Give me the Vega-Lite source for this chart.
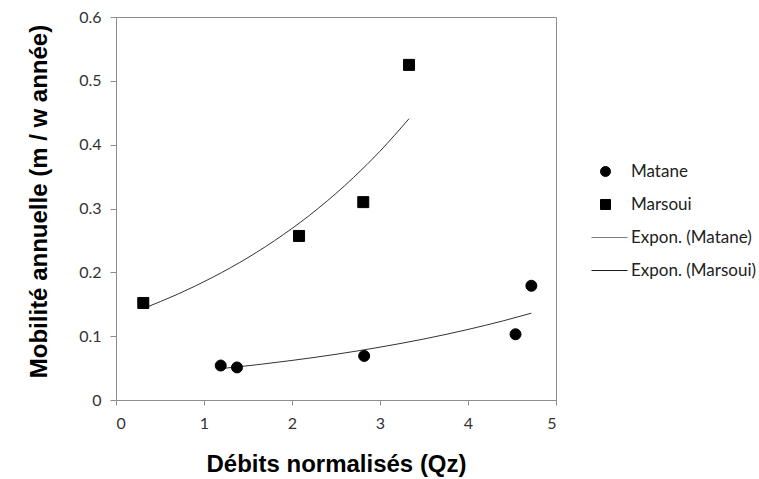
{
  "$schema": "https://vega.github.io/schema/vega-lite/v6.json",
  "width": 440,
  "height": 383,
  "autosize": {"type": "none"},
  "padding": {"left": 116, "top": 17, "right": 203, "bottom": 79},
  "background": "white",
  "config": {
    "font": "Lato",
    "view": {"stroke": "#8c8c8c", "strokeWidth": 1},
    "axis": {
      "grid": false,
      "domainColor": "#8c8c8c",
      "tickColor": "#8c8c8c",
      "tickSize": 5,
      "labelFont": "Lato",
      "labelFontSize": 16,
      "labelColor": "#333333",
      "titleFont": "Liberation Sans",
      "titleFontWeight": "bold",
      "titleColor": "#000000"
    },
    "legend": {
      "orient": "none",
      "legendX": 481,
      "legendY": 146,
      "padding": 0,
      "labelFont": "Lato",
      "labelFontSize": 17,
      "labelColor": "#222222",
      "symbolSize": 100,
      "symbolStrokeWidth": 1,
      "rowPadding": 15,
      "labelOffset": 17
    }
  },
  "datasets": {
    "points": [
      {"series": "Matane", "x": 1.19, "y": 0.054},
      {"series": "Matane", "x": 1.375, "y": 0.051},
      {"series": "Matane", "x": 2.82, "y": 0.069},
      {"series": "Matane", "x": 4.54, "y": 0.103},
      {"series": "Matane", "x": 4.72, "y": 0.179},
      {"series": "Marsoui", "x": 0.31, "y": 0.152},
      {"series": "Marsoui", "x": 2.08, "y": 0.257},
      {"series": "Marsoui", "x": 2.81, "y": 0.310},
      {"series": "Marsoui", "x": 3.33, "y": 0.525}
    ],
    "trend": [
      {"series": "Expon. (Matane)", "x": 1.19, "y": 0.0491},
      {"series": "Expon. (Matane)", "x": 1.6, "y": 0.0552},
      {"series": "Expon. (Matane)", "x": 2.0, "y": 0.0620},
      {"series": "Expon. (Matane)", "x": 2.5, "y": 0.0716},
      {"series": "Expon. (Matane)", "x": 3.0, "y": 0.0828},
      {"series": "Expon. (Matane)", "x": 3.5, "y": 0.0956},
      {"series": "Expon. (Matane)", "x": 4.0, "y": 0.1105},
      {"series": "Expon. (Matane)", "x": 4.4, "y": 0.1240},
      {"series": "Expon. (Matane)", "x": 4.72, "y": 0.1360},
      {"series": "Expon. (Marsoui)", "x": 0.31, "y": 0.1433},
      {"series": "Expon. (Marsoui)", "x": 0.7, "y": 0.1657},
      {"series": "Expon. (Marsoui)", "x": 1.1, "y": 0.1923},
      {"series": "Expon. (Marsoui)", "x": 1.5, "y": 0.2231},
      {"series": "Expon. (Marsoui)", "x": 1.9, "y": 0.2589},
      {"series": "Expon. (Marsoui)", "x": 2.3, "y": 0.3004},
      {"series": "Expon. (Marsoui)", "x": 2.7, "y": 0.3487},
      {"series": "Expon. (Marsoui)", "x": 3.0, "y": 0.3898},
      {"series": "Expon. (Marsoui)", "x": 3.33, "y": 0.4407}
    ]
  },
  "layer": [
    {
      "data": {"name": "trend"},
      "mark": {"type": "line", "color": "#333333", "strokeWidth": 1, "interpolate": "monotone"},
      "encoding": {
        "x": {
          "field": "x", "type": "quantitative",
          "scale": {"domain": [0, 5], "nice": false, "zero": false},
          "axis": {
            "title": "Débits normalisés (Qz)",
            "values": [0, 1, 2, 3, 4, 5],
            "format": "d",
            "labelPadding": 10,
            "titleFontSize": 24,
            "titleBaseline": "alphabetic",
            "titleX": 220,
            "titleY": 71
          }
        },
        "y": {
          "field": "y", "type": "quantitative",
          "scale": {"domain": [0, 0.6], "nice": false},
          "axis": {
            "title": "Mobilité annuelle  (m / w année)",
            "values": [0, 0.1, 0.2, 0.3, 0.4, 0.5, 0.6],
            "format": ".1~f",
            "tickSize": 6,
            "labelPadding": 9,
            "titleFontSize": 24,
            "titleBaseline": "alphabetic",
            "titleAngle": -90,
            "titleX": -70,
            "titleY": 184
          }
        },
        "detail": {"field": "series", "type": "nominal"}
      }
    },
    {
      "data": {"name": "points"},
      "mark": {"type": "point", "size": 121, "strokeWidth": 1, "opacity": 1},
      "encoding": {
        "x": {"field": "x", "type": "quantitative"},
        "y": {"field": "y", "type": "quantitative"},
        "shape": {
          "field": "series", "type": "nominal",
          "scale": {
            "domain": ["Matane", "Marsoui", "Expon. (Matane)", "Expon. (Marsoui)"],
            "range": ["circle", "square", "M-2.8,0H4.4", "M-2.8,0H4.4"]
          },
          "legend": {"title": null}
        },
        "fill": {
          "field": "series", "type": "nominal",
          "scale": {
            "domain": ["Matane", "Marsoui", "Expon. (Matane)", "Expon. (Marsoui)"],
            "range": ["#000000", "#000000", "#000000", "#000000"]
          },
          "legend": {"title": null}
        },
        "stroke": {
          "field": "series", "type": "nominal",
          "scale": {
            "domain": ["Matane", "Marsoui", "Expon. (Matane)", "Expon. (Marsoui)"],
            "range": ["#000000", "#000000", "#7a7a7a", "#1a1a1a"]
          },
          "legend": {"title": null}
        }
      }
    }
  ]
}
